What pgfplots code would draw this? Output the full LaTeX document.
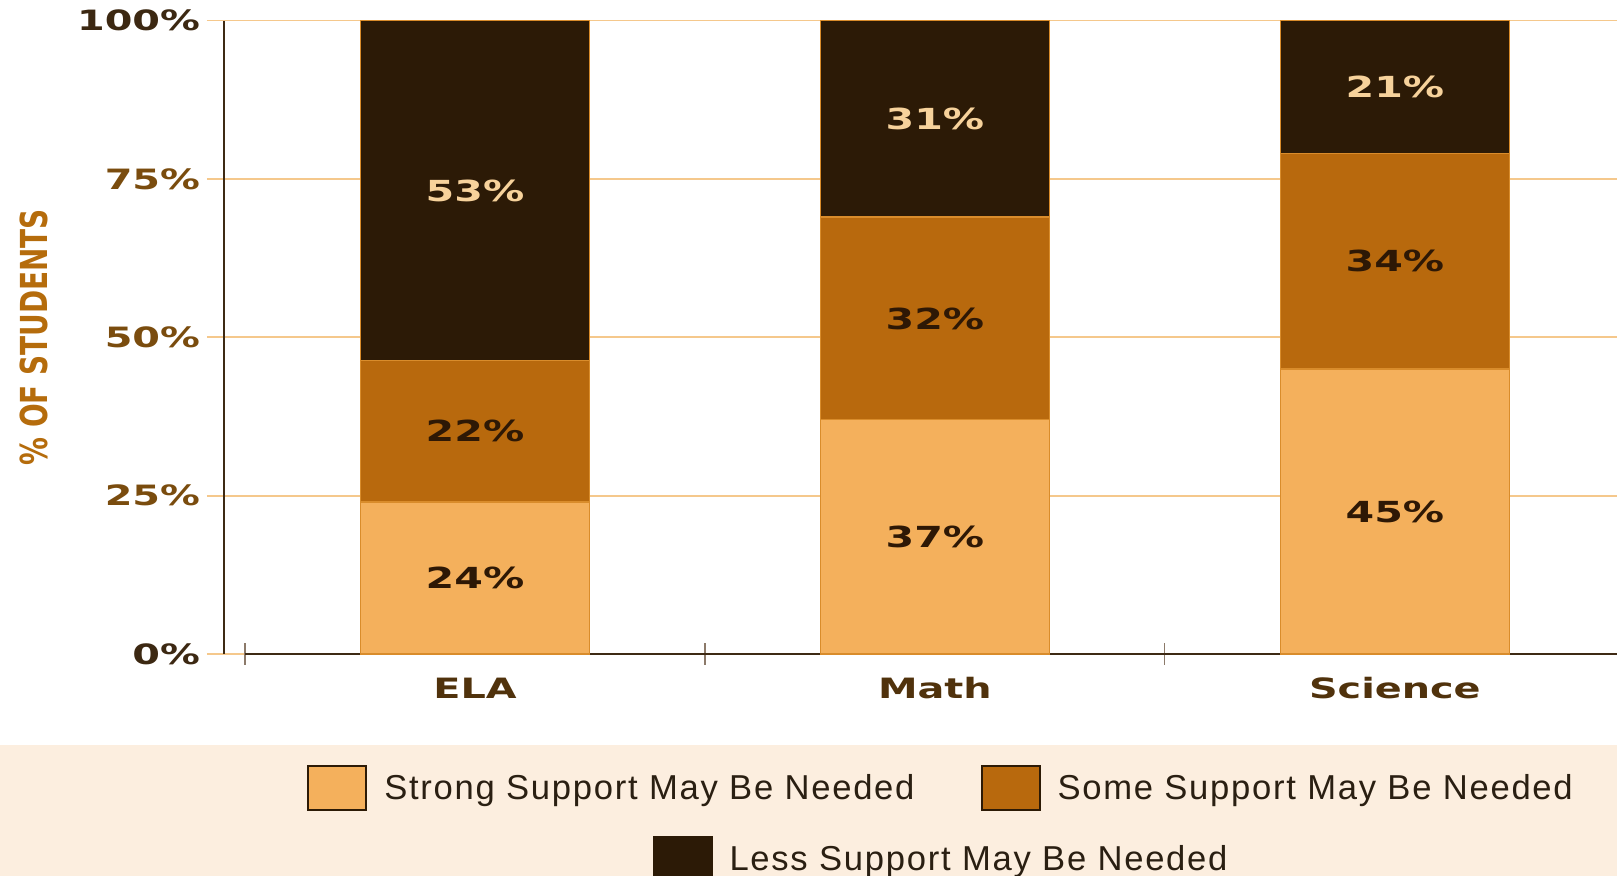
\documentclass[border=0pt]{standalone}
\usepackage{fontspec}
\usepackage{pgfplots}
\pgfplotsset{compat=1.18}
\usepackage{pgfplotstable}
\setmainfont{Liberation Sans}
\newfontfamily\tickfont[FakeStretch=1.42]{DejaVu Sans Bold}
\newfontfamily\ylabfont[FakeStretch=0.75]{DejaVu Sans Bold}
\newfontfamily\legfont[LetterSpace=5]{Liberation Sans}

\definecolor{cstrong}{HTML}{F4B05C}
\definecolor{csome}{HTML}{B8690D}
\definecolor{cless}{HTML}{2C1A06}
\definecolor{cedge}{HTML}{D98C2B}
\definecolor{cgrid}{HTML}{F5C88C}
\definecolor{caxis}{HTML}{3E2A14}
\definecolor{ctickdark}{HTML}{3C2812}
\definecolor{ctick}{HTML}{7A4C0E}
\definecolor{cxlab}{HTML}{50320C}
\definecolor{cylab}{HTML}{B56C0C}
\definecolor{clight}{HTML}{F7D29B}
\definecolor{cdarktxt}{HTML}{2E1805}
\definecolor{clegbg}{HTML}{FCEEDF}
\definecolor{clegtxt}{HTML}{2A1F12}
\definecolor{cxtick}{HTML}{8C7A6A}

\pgfplotstableread{
x strong some less
0 24 22.3 53.7
1 37 32 31
2 45 34 21
}\bardata

\pgfplotstableread{
x y label
0 12 24
0 35.15 22
1 18.5 37
1 52.9 32
2 22.5 45
2 62 34
}\labdark

\pgfplotstableread{
x y label
0 73.15 53
1 84.5 31
2 89.5 21
}\lablight

\pgfplotsset{
  common/.style={
    at={(112pt,111pt)}, anchor=south west,
    scale only axis, width=696.5pt, height=316.7pt,
    xmin=-0.5457, xmax=2.483, ymin=0, ymax=100,
  },
  legaxis/.style={
    common, hide axis,
    legend image code/.code={\draw[##1, draw=cless, line width=1pt] (0pt,-11pt) rectangle (29pt,11pt);},
    legend style={draw=none, fill=none, inner sep=0pt, column sep=8.5pt,
      nodes={inner sep=0pt, font=\legfont\fontsize{17.3}{17.3}\selectfont, text=clegtxt},
      /tikz/every even column/.append style={column sep=33pt}},
  },
}

\begin{document}
\begin{tikzpicture}
\useasboundingbox (0,0) rectangle (808.5pt,438pt);
\fill[clegbg] (0,0) rectangle (808.5pt,65.5pt);

\begin{axis}[
  common,
  clip=false,
  ybar stacked, bar width=114.5pt,
  axis line style={draw=none},
  tick pos=left,
  tick align=outside,
  major tick length=8.5pt,
  ymajorgrids=true,
  grid style={color=cgrid, line width=0.9pt},
  ytick={0,25,50,75,100},
  yticklabels={\textcolor{ctickdark}{0\%},\textcolor{ctick}{25\%},\textcolor{ctick}{50\%},\textcolor{ctick}{75\%},\textcolor{ctickdark}{100\%}},
  ytick style={color=cgrid, line width=0.9pt},
  yticklabel style={font=\tickfont\fontsize{14}{14}\selectfont},
  xtick={0,1,2},
  xticklabels={ELA,Math,Science},
  xtick style={draw=none},
  xticklabel style={font=\tickfont\fontsize{14}{14}\selectfont, text=cxlab, anchor=base, yshift=-14pt},
  extra x ticks={-0.5,0.5,1.5},
  extra x tick labels={},
  extra x tick style={grid=none, tick align=center, major tick length=11pt, xtick style={draw=cxtick, line width=0.6pt}},
  ylabel={\% OF STUDENTS},
  every axis y label/.style={at={(axis description cs:-0.1364,0.5)}, rotate=90, anchor=center, font=\ylabfont\fontsize{18.6}{18.6}\selectfont, text=cylab},
]
\addplot[fill=cstrong, draw=cedge, line width=0.7pt, forget plot] table[x=x,y=strong]{\bardata};
\addplot[fill=csome, draw=cedge, line width=0.7pt, forget plot] table[x=x,y=some]{\bardata};
\addplot[fill=cless, draw=cedge, line width=0.7pt, forget plot] table[x=x,y=less]{\bardata};
\draw[caxis, line width=1pt] (rel axis cs:0,0) -- (rel axis cs:0,1);
\draw[caxis, line width=1pt] (axis cs:-0.5,0) -- (rel axis cs:1,0);
\end{axis}

\begin{axis}[common, hide axis, clip=false]
\addplot[only marks, mark=*, mark size=0pt, mark options={draw=none,fill=none},
  point meta=explicit symbolic,
  nodes near coords={\pgfplotspointmeta\%},
  every node near coord/.style={anchor=center, inner sep=0pt, font=\tickfont\fontsize{14.5}{14.5}\selectfont, text=cdarktxt}]
  table[x=x,y=y,meta=label]{\labdark};
\addplot[only marks, mark=*, mark size=0pt, mark options={draw=none,fill=none},
  point meta=explicit symbolic,
  nodes near coords={\pgfplotspointmeta\%},
  every node near coord/.style={anchor=center, inner sep=0pt, font=\tickfont\fontsize{14.5}{14.5}\selectfont, text=clight}]
  table[x=x,y=y,meta=label]{\lablight};
\end{axis}

\begin{axis}[legaxis, legend columns=2, legend style={at={(0.514,-0.2116)}, anchor=center}]
\addlegendimage{fill=cstrong}
\addlegendentry{Strong Support May Be Needed}
\addlegendimage{fill=csome}
\addlegendentry{Some Support May Be Needed}
\end{axis}

\begin{axis}[legaxis, legend columns=1, legend style={at={(0.514,-0.3237)}, anchor=center}]
\addlegendimage{fill=cless}
\addlegendentry{Less Support May Be Needed}
\end{axis}
\end{tikzpicture}
\end{document}
